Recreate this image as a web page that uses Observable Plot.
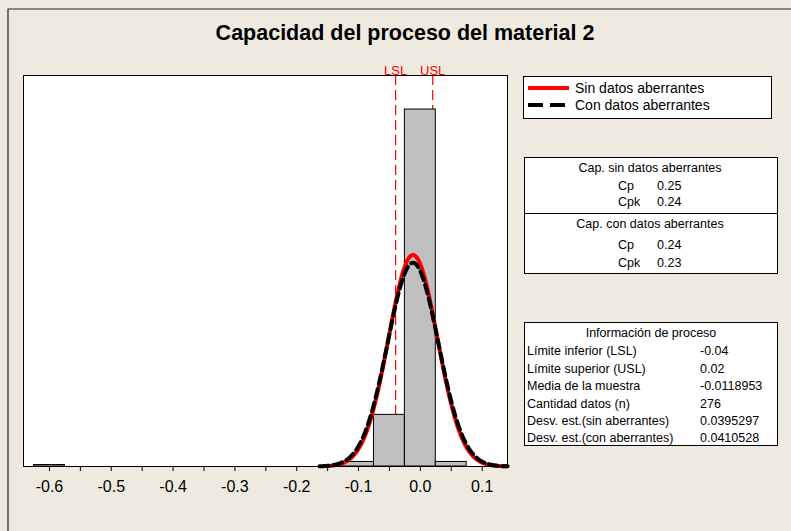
<!DOCTYPE html>
<html>
<head>
<meta charset="utf-8">
<script src="https://cdn.jsdelivr.net/npm/d3@7"></script>
<script src="https://cdn.jsdelivr.net/npm/@observablehq/plot@0.6"></script>
<style>
  html, body { margin: 0; padding: 0; background: #EEEAE0; }
  #chart svg { display: block; }
</style>
</head>
<body>
<div id="chart"></div>
<script>
// ---- Data ----
const title = "Capacidad del proceso del material 2";
const binStart = [-0.625, -0.125, -0.075, -0.025, 0.025];
const binEnd   = [-0.575, -0.075, -0.025,  0.025, 0.075];
const binCount = [1, 3, 34, 235, 3];
const specNames  = ["LSL", "USL"];
const specValues = [-0.04, 0.02];
const nData = 276;
const binWidth = 0.05;
const sampleMean = -0.0118953;
const sdWithout = 0.0395297;   // Sin datos aberrantes
const sdWith    = 0.0410528;   // Con datos aberrantes
const majorTicks = [-0.6, -0.5, -0.4, -0.3, -0.2, -0.1, 0.0, 0.1];
const minorTicks = [-0.55, -0.45, -0.35, -0.25, -0.15, -0.05, 0.05];
const legendLabels = ["Sin datos aberrantes", "Con datos aberrantes"];
const capTitles = ["Cap. sin datos aberrantes", "Cap. con datos aberrantes"];
const capNames = ["Cp", "Cpk"];
const capWithout = ["0.25", "0.24"];
const capWith = ["0.24", "0.23"];
const infoHeader = "Información de proceso";
const infoLabels = ["Límite inferior (LSL)", "Límite superior (USL)", "Media de la muestra",
  "Cantidad datos (n)", "Desv. est.(sin aberrantes)", "Desv. est.(con aberrantes)"];
const infoValues = ["-0.04", "0.02", "-0.0118953", "276", "0.0395297", "0.0410528"];

// ---- Derived tables ----
const bins = binStart.map((s, i) => ({x1: s, x2: binEnd[i], count: binCount[i]}));
const specs = specNames.map((n, i) => ({label: n, value: specValues[i]}));
// fitted normal curves (drawn from the stated mean / st. dev., scaled to counts)
function normalCurve(sd, lo, hi) {
  const pts = [];
  for (let k = 0; k <= 300; k++) {
    const x = lo + (hi - lo) * k / 300;
    const z = (x - sampleMean) / sd;
    pts.push({x, y: nData * binWidth * Math.exp(-0.5 * z * z) / (sd * Math.sqrt(2 * Math.PI))});
  }
  return pts;
}
const curveWithout = normalCurve(sdWithout, -0.152, 0.140);
const curveWith = normalCurve(sdWith, -0.163, 0.141);

const font = "'Liberation Sans', Arial, sans-serif";

const svg = Plot.plot({
  width: 791,
  height: 531,
  marginLeft: 23,
  marginRight: 284,
  marginTop: 75,
  marginBottom: 65,
  style: {background: "transparent", fontFamily: font, fontSize: "12px", color: "black"},
  x: {domain: [-0.642, 0.141]},
  y: {domain: [0, 257.4], axis: null},
  marks: [
    Plot.frame({fill: "white", stroke: null}),
    Plot.ruleX(specs, {x: "value", stroke: "#FF0000", strokeWidth: 1.2, strokeDasharray: "10,5"}),
    Plot.rectY(bins, {x1: "x1", x2: "x2", y: "count", fill: "#C0C0C0", stroke: "black", strokeWidth: 1}),
    Plot.line(curveWithout, {x: "x", y: "y", stroke: "#FF0000", strokeWidth: 4, curve: "linear"}),
    Plot.line(curveWith, {x: "x", y: "y", stroke: "black", strokeWidth: 4, strokeDasharray: "9,5"}),
    Plot.text(specs, {x: "value", text: "label", frameAnchor: "top", dy: -10, fill: "#FF0000", fontSize: 13}),
    Plot.axisX({ticks: minorTicks, tickSize: 5, tickFormat: () => ""}),
    Plot.axisX({ticks: majorTicks, tickSize: 5, tickPadding: 9, fontSize: 16, tickFormat: d => d.toFixed(1)}),
    Plot.frame({stroke: "black", strokeWidth: 1})
  ]
});
document.getElementById("chart").appendChild(svg);

// ---- Annotations (title, legend, boxes) ----
const s = d3.select(svg);
s.insert("path", ":first-child")
  .attr("d", "M8,540V9H800").attr("fill", "none").attr("stroke", "#222").attr("stroke-width", 1.2);
s.append("text").text(title)
  .attr("x", 405).attr("y", 40).attr("text-anchor", "middle")
  .attr("font-family", font).attr("font-weight", "bold").attr("font-size", 21.5).attr("fill", "black");

const g = s.append("g").attr("font-family", font).attr("fill", "black").attr("text-anchor", "start");
// legend
g.append("rect").attr("x", 523.5).attr("y", 76.5).attr("width", 248).attr("height", 42)
  .attr("fill", "white").attr("stroke", "black");
g.append("line").attr("x1", 528).attr("x2", 569).attr("y1", 88).attr("y2", 88)
  .attr("stroke", "#FF0000").attr("stroke-width", 4);
g.append("line").attr("x1", 528).attr("x2", 569).attr("y1", 105).attr("y2", 105)
  .attr("stroke", "black").attr("stroke-width", 4).attr("stroke-dasharray", "15,7");
legendLabels.forEach((t, i) => g.append("text").text(t).attr("text-anchor", "start")
  .attr("x", 575).attr("y", 88 + i * 17).attr("dy", "0.35em").attr("font-size", 14));

// capability box
g.append("rect").attr("x", 524.5).attr("y", 157.5).attr("width", 253).attr("height", 116)
  .attr("fill", "white").attr("stroke", "black");
g.append("line").attr("x1", 524.5).attr("x2", 777.5).attr("y1", 213.5).attr("y2", 213.5).attr("stroke", "black");
const capRows = [[168, 186, 202, capWithout], [224, 245, 263, capWith]];
capRows.forEach(([ty, y1, y2, vals], i) => {
  g.append("text").text(capTitles[i]).attr("x", 650).attr("y", ty).attr("dy", "0.35em")
    .attr("text-anchor", "middle").attr("font-size", 12.5);
  [y1, y2].forEach((yy, j) => {
    g.append("text").text(capNames[j]).attr("text-anchor", "start").attr("x", 618).attr("y", yy).attr("dy", "0.35em").attr("font-size", 12.5);
    g.append("text").text(vals[j]).attr("text-anchor", "start").attr("x", 657).attr("y", yy).attr("dy", "0.35em").attr("font-size", 12.5);
  });
});

// process info box
g.append("rect").attr("x", 524.5).attr("y", 322.5).attr("width", 253).attr("height", 123)
  .attr("fill", "white").attr("stroke", "black");
g.append("text").text(infoHeader).attr("x", 651).attr("y", 333).attr("dy", "0.35em")
  .attr("text-anchor", "middle").attr("font-size", 12.5);
infoLabels.forEach((t, i) => {
  const yy = 351 + i * 17.4;
  g.append("text").text(t).attr("text-anchor", "start").attr("x", 527).attr("y", yy).attr("dy", "0.35em").attr("font-size", 12.5);
  g.append("text").text(infoValues[i]).attr("text-anchor", "start").attr("x", 700).attr("y", yy).attr("dy", "0.35em").attr("font-size", 12.5);
});
</script>
</body>
</html>
